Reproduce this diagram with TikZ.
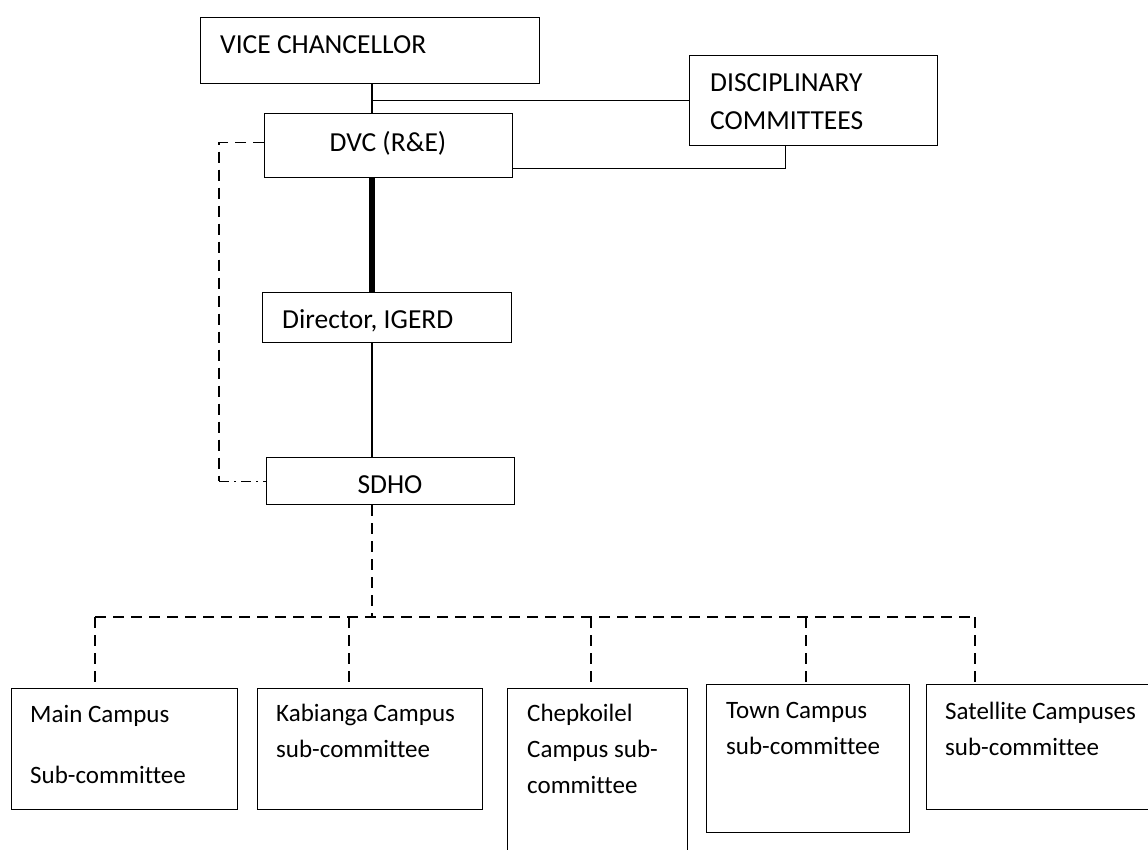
\documentclass[tikz,border=0pt]{standalone}
\usepackage{fontspec}
\setmainfont{Carlito}[Ligatures=NoCommon]
\usetikzlibrary{positioning}

\tikzset{
  box/.style={draw, line width=1.1pt, inner sep=0, anchor=north west},
  txt/.style={inner sep=0, anchor=base west, align=left},
  small/.style={font=\fontsize{25}{36}\selectfont},
  link/.style={line width=1.1pt},
  dashlink/.style={line width=1.1pt, dash pattern=on 11pt off 7pt},
  dotlink/.style={line width=1.1pt, dash pattern=on 10pt off 5pt on 2pt off 5pt}
}

\begin{document}
\begin{tikzpicture}[x=1pt,y=-1pt,font=\fontsize{27.5}{36}\selectfont]
\useasboundingbox (0,0) rectangle (1148,850);

% Top blocks
\node[box,
    minimum width=339pt, minimum height=66pt
] (vc) at (200,17) {};
\node[txt] (vctext) at ([shift={(20,37)}]vc.north west) {VICE CHANCELLOR};

\node[box,
    minimum width=248pt, minimum height=90pt
] (dc) at (689,55) {};
\node[txt] (dctext) at ([shift={(21,75)}]dc.north west) {DISCIPLINARY\\[2pt]COMMITTEES};

\node[box,
    minimum width=248pt, minimum height=64pt
] (dvc) at (264,113) {};
\node[txt, anchor=base] (dvctext) at ([shift={(124,39)}]dvc.north west) {DVC (R\&E)};

% Middle blocks
\node[box,
    minimum width=249pt, minimum height=50pt
] (dir) at (262,292) {};
\node[txt] (dirtext) at ([shift={(20,36)}]dir.north west) {Director, IGERD};

\node[box,
    minimum width=248pt, minimum height=47pt
] (sdho) at (266,457) {};
\node[txt, anchor=base] (sdhotext) at ([shift={(124,36)}]sdho.north west) {SDHO};

% Sub-committee blocks
\node[box,
    minimum width=226pt, minimum height=121pt
] (main) at (11,688) {};
\node[txt, small] (maintext) at ([shift={(19,95)}]main.north west) {Main Campus\\[25pt]Sub-committee};

\node[box,
    minimum width=225pt, minimum height=121pt
] (kab) at (257,688) {};
\node[txt, small] (kabtext) at ([shift={(19,69)}]kab.north west) {Kabianga Campus\\sub-committee};

\node[box,
    minimum width=180pt, minimum height=170pt
] (chep) at (507,688) {};
\node[txt, small] (cheptext) at ([shift={(20,105)}]chep.north west) {Chepkoilel\\Campus sub-\\committee};

\node[box,
    minimum width=203pt, minimum height=148pt
] (town) at (706,684) {};
\node[txt, small] (towntext) at ([shift={(20,70)}]town.north west) {Town Campus\\sub-committee};

\node[box,
    minimum width=230pt, minimum height=125pt
] (sat) at (926,684) {};
\node[txt, small] (sattext) at ([shift={(19,71)}]sat.north west) {Satellite Campuses\\sub-committee};

% Helper points
\coordinate (spine) at (372,0);
\coordinate (lbend) at (219,0);
\coordinate (bmain) at (95,617);
\coordinate (bkab) at (349,617);
\coordinate (bchep) at (591,617);
\coordinate (btown) at (806,617);
\coordinate (bsat) at (975,617);

% Lines
\draw[link] (vc.south -| spine) -- (dvc.north -| spine);
\draw[link] (spine |- dc.west) -- (dc.west);
\draw[link] ([yshift=10pt]dvc.south east) -| ([xshift=-28pt]dc.south);
\draw[line width=6.5pt] (dvc.south -| spine) -- (dir.north -| spine);
\draw[link] (dir.south -| spine) -- (sdho.north -| spine);

\draw[dashlink] ([yshift=3pt]dvc.west) -| (lbend |- sdho.west);
\draw[dotlink] (lbend |- sdho.west) -- (sdho.west);

\draw[dashlink] (sdho.south -| spine) -- (bmain -| spine);
\draw[dashlink] (bmain) -- (bsat);
\foreach \b in {main,kab,chep,town,sat}
    \draw[dashlink] (b\b) -- (b\b |- \b.north);

\end{tikzpicture}
\end{document}
